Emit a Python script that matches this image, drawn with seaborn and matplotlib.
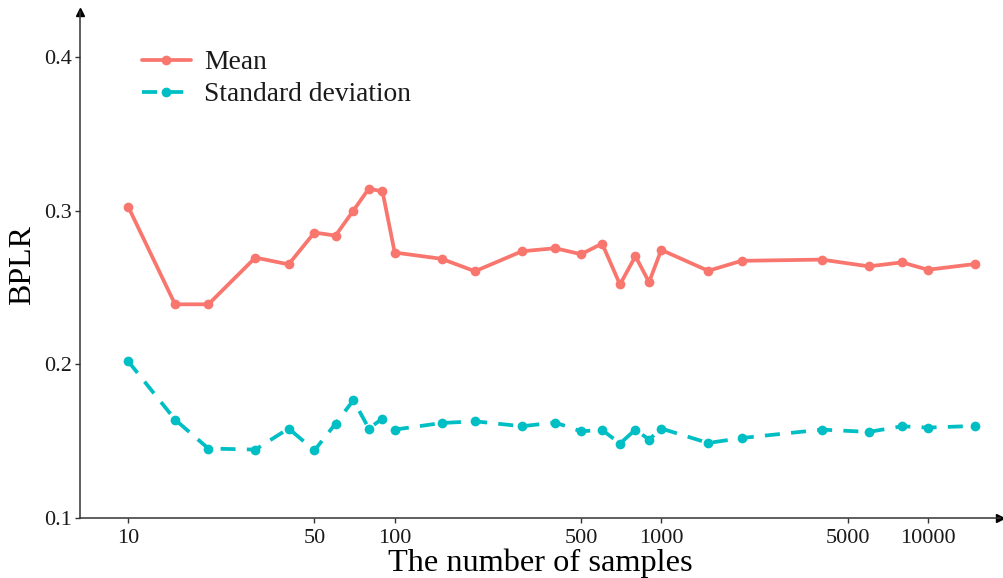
import numpy as np
import pandas as pd
import matplotlib
matplotlib.use("Agg")
import matplotlib.pyplot as plt
import seaborn as sns

samples = [10, 15, 20, 30, 40, 50, 60, 70, 80, 90, 100, 150, 200, 300, 400, 500,
           600, 700, 800, 900, 1000, 1500, 2000, 4000, 6000, 8000, 10000, 15000]
mean_vals = [0.3026, 0.239, 0.239, 0.2694, 0.265, 0.2857, 0.2837, 0.300, 0.3143, 0.3124,
             0.2727, 0.2686, 0.2605, 0.2735, 0.2755, 0.2716, 0.2785, 0.2519, 0.2703, 0.2534,
             0.2744, 0.2608, 0.2673, 0.2681, 0.2637, 0.2663, 0.2615, 0.2652]
std_vals = [0.202, 0.164, 0.1452, 0.1445, 0.1582, 0.1440, 0.1614, 0.1766, 0.1582, 0.1647,
            0.1575, 0.1618, 0.1629, 0.1597, 0.1621, 0.1564, 0.1573, 0.1484, 0.1575, 0.1510,
            0.1582, 0.1488, 0.1520, 0.1575, 0.1560, 0.1597, 0.1588, 0.1599]
series_names = ["Mean", "Standard deviation"]
x_ticks = [10, 50, 100, 500, 1000, 5000, 10000]
y_ticks = [0.1, 0.2, 0.3, 0.4]

sns.set_theme(style="white")
plt.rcParams['font.family'] = ['Liberation Serif', 'DejaVu Serif']

df = pd.DataFrame({
    "samples": samples * 2,
    "value": mean_vals + std_vals,
    "series": [series_names[0]] * len(samples) + [series_names[1]] * len(samples),
})

fig = plt.figure(figsize=(10.04, 5.78), dpi=100)
ax = fig.add_axes([0.0797, 0.1038, 0.916, 0.875])

palette = {series_names[0]: "#F8766D", series_names[1]: "#00BFC4"}
dashes = {series_names[0]: "", series_names[1]: (4, 3)}
sns.lineplot(data=df, x="samples", y="value", hue="series", style="series",
             palette=palette, dashes=dashes, markers={series_names[0]: "o", series_names[1]: "o"},
             markersize=7, markeredgewidth=0, linewidth=2.7, ax=ax, legend=True)

axis_col = "#333333"
ax.set_xscale("log")
ax.set_xlim(6.6, 18600)
ax.set_ylim(0.1, 0.429)
ax.set_xticks(x_ticks)
ax.set_xticklabels([str(t) for t in x_ticks])
ax.xaxis.set_minor_locator(matplotlib.ticker.NullLocator())
ax.set_yticks(y_ticks)
ax.set_yticklabels([f"{t:.1f}" for t in y_ticks])
ax.tick_params(axis="both", which="major", direction="out", length=3.6, width=1,
               labelsize=16, color=axis_col, labelcolor="#1a1a1a", bottom=True, left=True, pad=2)
ax.tick_params(axis="x", pad=4)

for s in ["top", "right"]:
    ax.spines[s].set_visible(False)
for s in ["left", "bottom"]:
    ax.spines[s].set_color(axis_col)
    ax.spines[s].set_linewidth(1.1)

ax.plot(1, 0, ">", color="black", markersize=6, transform=ax.transAxes, clip_on=False)
ax.plot(0, 1, "^", color="black", markersize=6, transform=ax.transAxes, clip_on=False)

ax.set_xlabel("The number of samples", fontsize=23.3, labelpad=1, color="black")
ax.set_ylabel("BPLR", fontsize=23, labelpad=5, color="black")

leg = ax.legend(loc="upper left", bbox_to_anchor=(0.040, 0.974), frameon=False,
                fontsize=19.8, handlelength=1.8, labelspacing=0.24, handletextpad=0.47)
for t in leg.get_texts():
    t.set_color("#1a1a1a")

fig.savefig("out.png", dpi=100)
